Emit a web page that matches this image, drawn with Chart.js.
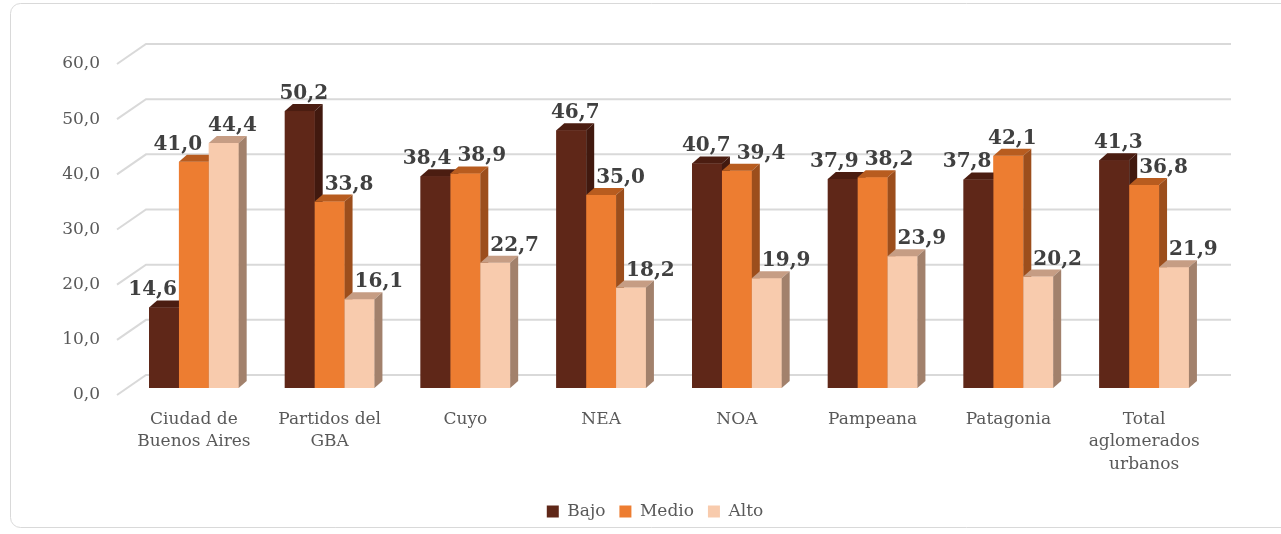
<!DOCTYPE html>
<html>
<head>
<meta charset="utf-8">
<script src="https://cdn.jsdelivr.net/npm/chart.js@4"></script>
<style>
  html, body { margin: 0; padding: 0; background: #fff; }
  #wrap { width: 1281px; height: 534px; }
</style>
</head>
<body>
<div id="wrap"><canvas id="chart" width="1281" height="534"></canvas></div>
<script>
// datos
const categories = [['Ciudad de', 'Buenos Aires'], ['Partidos del', 'GBA'], 'Cuyo', 'NEA', 'NOA', 'Pampeana', 'Patagonia', ['Total', 'aglomerados', 'urbanos']];
const seriesNames = ['Bajo', 'Medio', 'Alto'];
const bajo = [14.6, 50.2, 38.4, 46.7, 40.7, 37.9, 37.8, 41.3];
const medio = [41.0, 33.8, 38.9, 35.0, 39.4, 38.2, 42.1, 36.8];
const alto = [44.4, 16.1, 22.7, 18.2, 19.9, 23.9, 20.2, 21.9];
const yMin = 0, yMax = 60, yStep = 10;

// colores: frente, tapa, lateral
const faces = [
    { front: '#5f2718', top: '#4b1d11', side: '#41190f' },
    { front: '#ed7d31', top: '#b85c1f', side: '#9c4e1c' },
    { front: '#f8cbad', top: '#c69d84', side: '#a2816c' }
];
const FONT = '"DejaVu Serif", Georgia, serif';
const DX = 8, DY = 7;          // profundidad de las barras
const fmt = v => v.toFixed(1).replace('.', ',');

// marco redondeado + pared del fondo con las lineas de grilla
const backdrop = {
    id: 'backdrop',
    afterLayout(chart) {
        // centrar la leyenda dentro del marco
        const lg = chart.legend;
        if (!lg) return;
        const shift = 655 - (lg.left + lg.right) / 2;
        lg.left += shift;
        lg.right += shift;
        lg.top += 4;
        lg.bottom += 4;
    },
    beforeDraw(chart) {
        const { ctx } = chart;
        ctx.save();
        ctx.fillStyle = '#fff';
        ctx.fillRect(0, 0, chart.width, chart.height);
        ctx.strokeStyle = '#d9d9d9';
        ctx.lineWidth = 1;
        ctx.beginPath();
        ctx.roundRect(10.5, 3.5, 1300, 524, 10);
        ctx.stroke();
        ctx.restore();
    },
    beforeDatasetsDraw(chart) {
        const { ctx, chartArea } = chart;
        const y = chart.scales.y;
        ctx.save();
        ctx.strokeStyle = '#d9d9d9';
        ctx.lineWidth = 2;
        for (let v = yMin; v <= yMax; v += yStep) {
            const py = y.getPixelForValue(v);
            ctx.beginPath();
            ctx.moveTo(chartArea.left - 9, py + 7);
            ctx.lineTo(chartArea.left + 20, py - 13);
            ctx.lineTo(chartArea.right + 19, py - 13);
            ctx.stroke();
        }
        ctx.restore();
    }
};

// barras 3D y etiquetas de valor
const bars3d = {
    id: 'bars3d',
    afterDatasetsDraw(chart) {
        const { ctx } = chart;
        const sets = chart.data.datasets;
        ctx.save();
        sets.forEach((ds, di) => {
            const c = faces[di];
            chart.getDatasetMeta(di).data.forEach(bar => {
                const l = bar.x - bar.width / 2, r = bar.x + bar.width / 2;
                const t = bar.y, b = bar.base;
                ctx.fillStyle = c.front;
                ctx.fillRect(l, t, r - l, b - t);
                ctx.fillStyle = c.top;
                ctx.beginPath();
                ctx.moveTo(l, t); ctx.lineTo(l + DX, t - DY); ctx.lineTo(r + DX, t - DY); ctx.lineTo(r, t);
                ctx.closePath(); ctx.fill();
                ctx.fillStyle = c.side;
                ctx.beginPath();
                ctx.moveTo(r, t); ctx.lineTo(r + DX, t - DY); ctx.lineTo(r + DX, b - DY); ctx.lineTo(r, b);
                ctx.closePath(); ctx.fill();
            });
        });

        ctx.fillStyle = '#404040';
        ctx.font = 'bold 20px ' + FONT;
        ctx.textAlign = 'center';
        ctx.textBaseline = 'alphabetic';
        const h = 20, gap = 6;
        categories.forEach((cat, i) => {
            const bars = sets.map((ds, di) => chart.getDatasetMeta(di).data[i]);
            const labels = sets.map((ds, di) => {
                const txt = fmt(ds.data[i]);
                return { txt, x: bars[di].x + DX / 2, y: bars[di].y - DY - 5, w: ctx.measureText(txt).width };
            });
            // no tapar las barras vecinas mas altas
            labels.forEach((lb, j) => {
                bars.forEach((bar, k) => {
                    if (k === j || bar.y - DY >= lb.y + 2) return;
                    if (k < j) {
                        const lim = bar.x + bar.width / 2 + DX + 2;
                        if (lb.x - lb.w / 2 < lim) lb.x = lim + lb.w / 2;
                    } else {
                        const lim = bar.x - bar.width / 2 - 2;
                        if (lb.x + lb.w / 2 > lim) lb.x = lim - lb.w / 2;
                    }
                });
            });
            // separar etiquetas que se pisan
            for (let pass = 0; pass < 4; pass++) {
                for (let j = 0; j < labels.length - 1; j++) {
                    const a = labels[j], b = labels[j + 1];
                    if (Math.abs(a.y - b.y) >= h + 2) continue;
                    const over = (a.x + a.w / 2 + gap) - (b.x - b.w / 2);
                    if (over > 0) { a.x -= over / 2; b.x += over / 2; }
                }
            }
            labels.forEach(lb => ctx.fillText(lb.txt, lb.x, lb.y));
        });
        ctx.restore();
    }
};

new Chart(document.getElementById('chart'), {
    type: 'bar',
    data: {
        labels: categories,
        datasets: [
            { label: seriesNames[0], data: bajo, backgroundColor: faces[0].front },
            { label: seriesNames[1], data: medio, backgroundColor: faces[1].front },
            { label: seriesNames[2], data: alto, backgroundColor: faces[2].front }
        ]
    },
    options: {
        responsive: false,
        animation: false,
        devicePixelRatio: 1,
        categoryPercentage: 0.66,
        barPercentage: 1,
        layout: { padding: { top: 57, right: 69, bottom: 8, left: 0 } },
        scales: {
            x: {
                grid: { display: false, drawTicks: false },
                border: { display: false },
                ticks: { color: '#595959', font: { family: FONT, size: 17, lineHeight: 1.32 }, padding: 20, maxRotation: 0, autoSkip: false },
                afterFit: s => { s.height = 97; }
            },
            y: {
                min: yMin, max: yMax,
                grid: { display: false, drawTicks: false },
                border: { display: false },
                ticks: {
                    stepSize: yStep, color: '#595959', padding: 26, labelOffset: 7,
                    font: { family: FONT, size: 17 },
                    callback: v => fmt(v)
                },
                afterFit: s => { s.width = 126; }
            }
        },
        plugins: {
            legend: {
                position: 'bottom',
                labels: { color: '#595959', font: { family: FONT, size: 17 }, boxWidth: 12, boxHeight: 12, padding: 14 }
            },
            tooltip: { enabled: false }
        }
    },
    plugins: [backdrop, bars3d]
});
</script>
</body>
</html>
